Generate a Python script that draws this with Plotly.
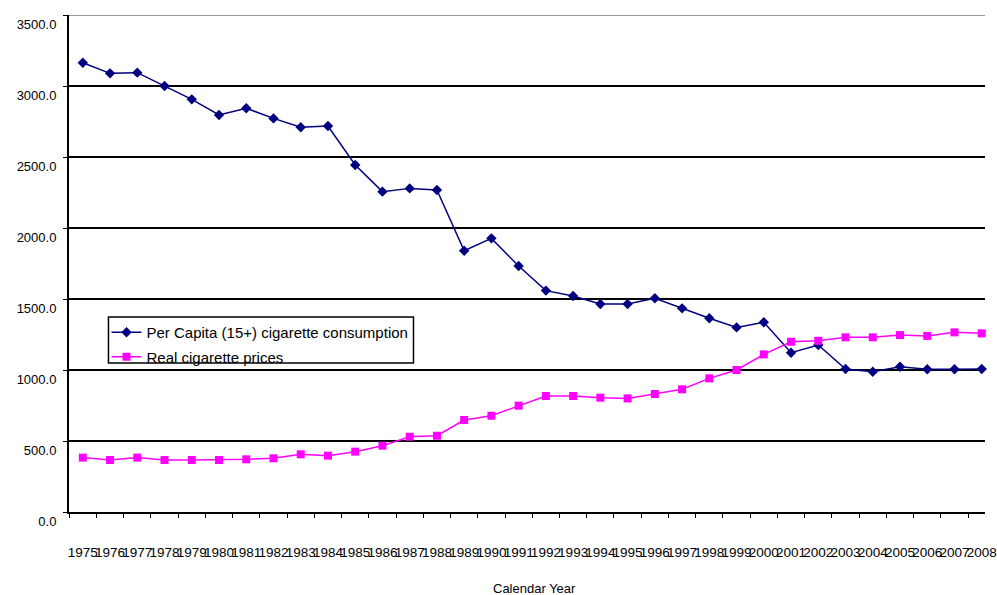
import plotly.graph_objects as go

years = [str(y) for y in range(1975, 2009)]

consumption = [3164, 3089, 3094, 3000, 2906, 2796, 2843, 2772, 2709, 2718,
               2444, 2256, 2279, 2268, 1840, 1927, 1732, 1559, 1521, 1465,
               1465, 1505, 1434, 1364, 1300, 1336, 1122, 1176, 1007, 988,
               1023, 1005, 1005, 1007]

prices = [383, 366, 383, 366, 366, 366, 371, 378, 406, 397,
          425, 467, 530, 537, 648, 678, 749, 817, 817, 805,
          800, 831, 864, 941, 1000, 1110, 1199, 1206, 1230, 1230,
          1246, 1240, 1265, 1258]

y_ticks = [0, 500, 1000, 1500, 2000, 2500, 3000, 3500]
y_tick_text = [f"{v:.1f}" for v in y_ticks]

FONT = "Liberation Sans, Arial, sans-serif"

# plot area in pixels: left 69, right 997, top 15, bottom 512
PW, PH, PL, PB = 928, 497, 69, 512


def px_x(x):
    return (x - PL) / PW


def px_y(y):
    return (PB - y) / PH


fig = go.Figure()
fig.add_trace(go.Scatter(
    x=years, y=consumption, mode="lines+markers",
    name="Per Capita (15+) cigarette consumption", legendgroup="a",
    line=dict(color="#000080", width=1.5),
    marker=dict(symbol="diamond", size=8, color="#000080"),
    cliponaxis=False,
))
fig.add_trace(go.Scatter(
    x=years, y=prices, mode="lines+markers",
    name="Real cigarette prices", legendgroup="b",
    line=dict(color="#FF00FF", width=1.5),
    marker=dict(symbol="square", size=8, color="#FF00FF"),
    cliponaxis=False,
))

# lighter top border line
fig.add_shape(type="line", xref="paper", yref="y", x0=0, x1=1, y0=3500, y1=3500,
              line=dict(color="#9a9a9a", width=2), layer="above")

# legend frame
fig.add_shape(type="rect", xref="paper", yref="paper",
              x0=px_x(109), x1=px_x(418), y0=px_y(363), y1=px_y(317),
              line=dict(color="black", width=1.5), fillcolor="white", layer="above")

fig.add_annotation(text="Calendar Year", xref="paper", yref="paper",
                   x=px_x(541), y=-(588 - PB) / PH,
                   showarrow=False, xanchor="center", yanchor="middle",
                   font=dict(family=FONT, size=13, color="black"))

fig.update_xaxes(
    type="category", range=[-0.507, 33.12],
    tickson="boundaries", ticks="outside", ticklen=4, tickcolor="black",
    tickangle=0, dtick=1, tickfont=dict(family=FONT, size=13.5, color="black"),
    ticklabelstandoff=27,
    showline=True, linecolor="black", linewidth=2, showgrid=False,
)
fig.update_yaxes(
    range=[0, 3500], tickmode="array", tickvals=y_ticks, ticktext=y_tick_text,
    ticks="outside", ticklen=4, tickcolor="black",
    ticklabelposition="outside bottom", ticklabelstandoff=8,
    tickfont=dict(family=FONT, size=13, color="black"),
    showline=True, linecolor="black", linewidth=2,
    showgrid=True, gridcolor="black", gridwidth=1.8, zeroline=False,
)

fig.update_layout(
    width=997, height=595,
    margin=dict(l=PL, r=0, t=15, b=83),
    paper_bgcolor="white", plot_bgcolor="white",
    font=dict(family=FONT, color="black"),
    legend=dict(
        x=px_x(107), y=px_y(316), xanchor="left", yanchor="top",
        borderwidth=0, bgcolor="rgba(0,0,0,0)",
        font=dict(family=FONT, size=15, color="black"),
        itemwidth=30, traceorder="grouped", tracegroupgap=2,
    ),
    showlegend=True,
)

fig.write_html("out.html")
